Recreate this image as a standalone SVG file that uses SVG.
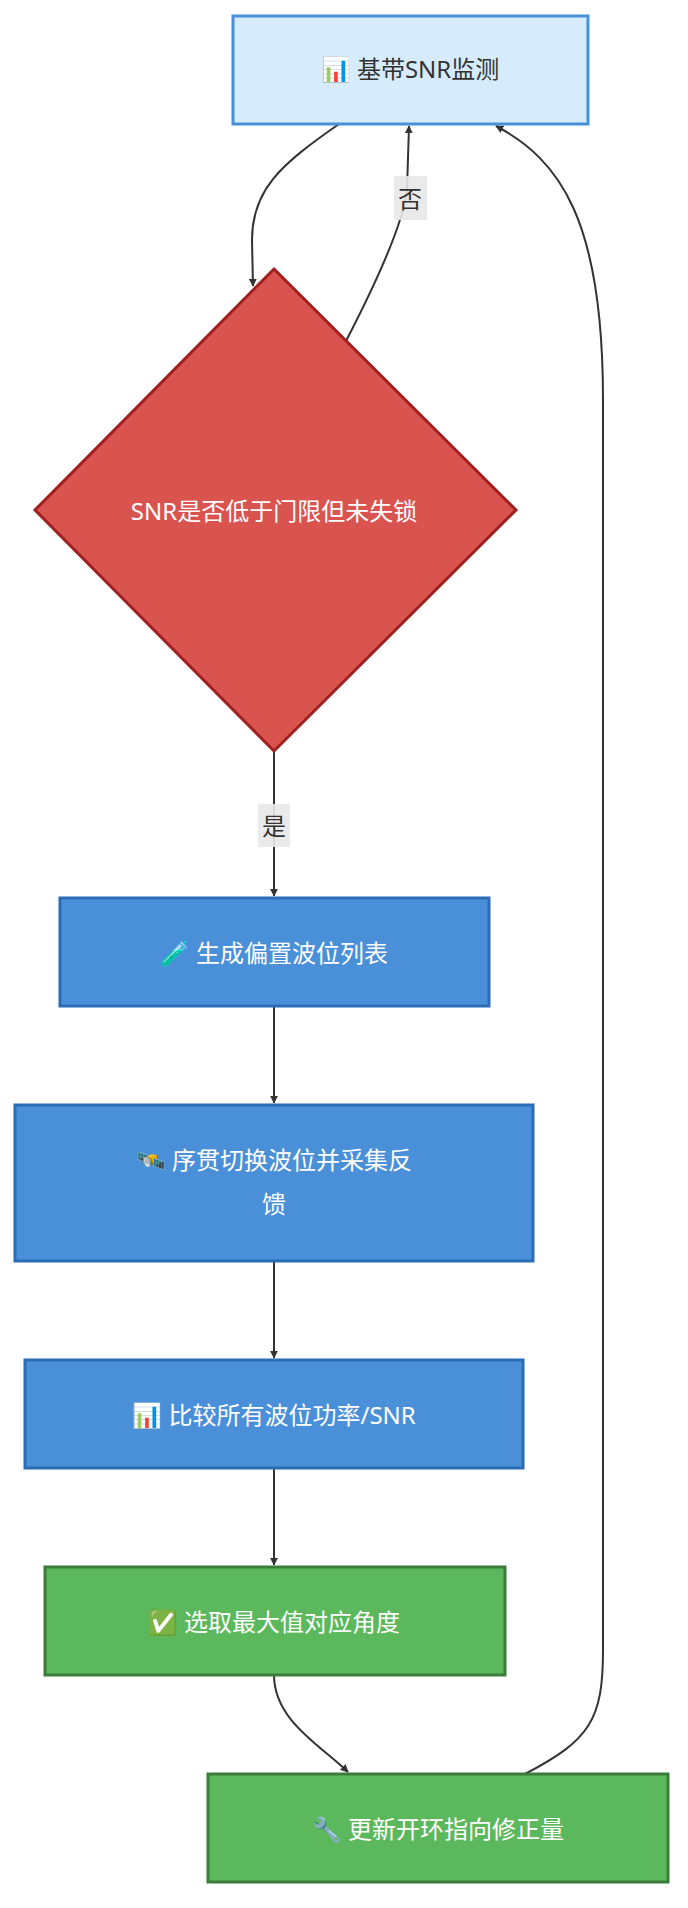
<svg xmlns="http://www.w3.org/2000/svg" width="688" height="1908" viewBox="0 0 688 1908">
<style>
text{font-family:"Noto Sans","Noto Sans CJK SC",sans-serif;text-anchor:middle;dominant-baseline:central}
.e{fill:none;stroke:#333;stroke-width:2}
.blue{fill:#4a90d9;stroke:#2a6db5;stroke-width:3}
.green{fill:#5cb85c;stroke:#3a7d3a;stroke-width:3}
.w{fill:#fff;font-size:24px}
.lb{fill:#e8e8e8;opacity:0.9}
.lt{fill:#333;font-size:24px}
</style>
<defs>
<marker id="a" viewBox="0 0 10 10" refX="9" refY="5" markerWidth="8" markerHeight="8" orient="auto-start-reverse" markerUnits="userSpaceOnUse"><path d="M0,0L10,5L0,10z" fill="#333"/></marker>
</defs>
<rect width="688" height="1908" fill="#fff"/>
<g id="edges">
<path class="e" marker-end="url(#a)" d="M339,124 C280,165 252,190 252,240 L253,286"/>
<path class="e" marker-end="url(#a)" d="M346,341 C375,285 403,225 407,190 L409,126"/>
<path class="e" marker-end="url(#a)" d="M274,751 L274,896"/>
<path class="e" marker-end="url(#a)" d="M274,1006 L274,1103"/>
<path class="e" marker-end="url(#a)" d="M274,1261 L274,1358"/>
<path class="e" marker-end="url(#a)" d="M274,1468 L274,1565"/>
<path class="e" marker-end="url(#a)" d="M274,1675 C274,1720 320,1745 348,1772"/>
<path class="e" marker-end="url(#a)" d="M525,1774 C590,1740 603,1720 603,1650 L603,400 C603,220 560,160 496,126"/>
<rect class="lb" x="394" y="176" width="33" height="44"/>
<text class="lt" x="410" y="198">否</text>
<rect class="lb" x="258" y="804" width="32" height="43"/>
<text class="lt" x="274" y="825">是</text>
</g>
<g id="n1"><rect x="233" y="16" width="355" height="108" fill="#d6ecfc" stroke="#4a90d9" stroke-width="3"/><text x="410" y="68" font-size="24" fill="#333">📊  基带SNR监测</text></g>
<g id="n2"><polygon points="274,269 516,510 274,751 35,510" fill="#d9534f" stroke="#a02020" stroke-width="3"/><text class="w" x="274" y="510" font-size="23">SNR是否低于门限但未失锁</text></g>
<g id="n3"><rect class="blue" x="60" y="898" width="429" height="108"/><text class="w" x="274" y="952">🧪  生成偏置波位列表</text></g>
<g id="n4"><rect class="blue" x="15" y="1105" width="518" height="156"/><text class="w" x="274" y="1159">🛰️  序贯切换波位并采集反</text><text class="w" x="274" y="1203">馈</text></g>
<g id="n5"><rect class="blue" x="25" y="1360" width="498" height="108"/><text class="w" x="274" y="1414">📊  比较所有波位功率/SNR</text></g>
<g id="n6"><rect class="green" x="45" y="1567" width="460" height="108"/><text class="w" x="274" y="1621">✅  选取最大值对应角度</text></g>
<g id="n7"><rect class="green" x="208" y="1774" width="460" height="108"/><text class="w" x="438" y="1828">🔧  更新开环指向修正量</text></g>
</svg>
